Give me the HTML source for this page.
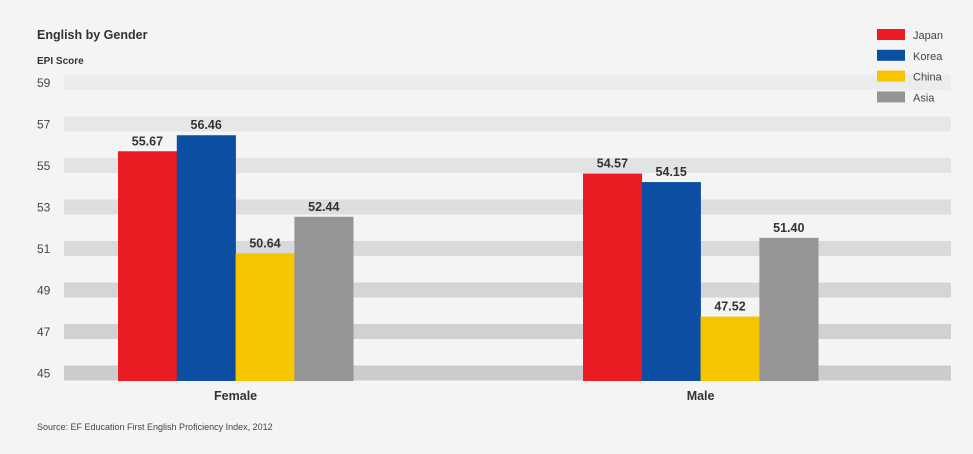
<!DOCTYPE html>
<html><head><meta charset="utf-8"><style>
body{margin:0;background:#f4f4f4;font-family:"Liberation Sans",sans-serif;}
svg text{font-family:"Liberation Sans",sans-serif;}
</style></head><body>
<svg id="c" width="973" height="449">
<rect width="973" height="449" fill="#f4f4f4"/>
<text x="37" y="39" font-size="12.5" font-weight="bold" fill="#333">English by Gender</text>
<text x="37" y="64" font-size="10" font-weight="bold" fill="#333">EPI Score</text>
<text x="37" y="430" font-size="9" fill="#444">Source: EF Education First English Proficiency Index, 2012</text>
<g id="bands"></g><g id="bars"></g><g id="legend"></g>
</svg>
<script>
const categories=["Female","Male"];
const seriesNames=["Japan","Korea","China","Asia"];
const japan=[55.67,54.57];
const korea=[56.46,54.15];
const china=[50.64,47.52];
const asia=[52.44,51.40];
const ticks=[59,57,55,53,51,49,47,45];
const tickLabels=["59","57","55","53","51","49","47","45"];
const colors=["#ec1c24","#0b4ea2","#f6c500","#959595"];
const NS="http://www.w3.org/2000/svg";
function mk(t,a,p){const e=document.createElementNS(NS,t);for(const k in a)e.setAttribute(k,a[k]);p.appendChild(e);return e;}
function bandY(v){return 75+(59-v)/2*41.5;}
function y(v){return 208.25-(v-52.86)*20.28;}
const groupX=[118,583],barW=58.8,baseY=381;
const bands=document.getElementById('bands');
ticks.forEach((t,i)=>{
  const f=i/(ticks.length-1);
  const c=Math.round(235-f*32);
  const r=mk('rect',{x:64,y:bandY(t),width:887,height:15,fill:`rgb(${c},${c+1},${c+3})`},bands);
  
  
  const tx=mk('text',{x:37,y:bandY(t)+12,'font-size':12,fill:'#444'},bands);tx.textContent=tickLabels[i];
  
  
});
const bars=document.getElementById('bars');
const series=[japan,korea,china,asia];
categories.forEach((cat,ci)=>{
  series.forEach((s,si)=>{
    const x=groupX[ci]+si*barW, top=y(s[ci]);
    const r=mk('rect',{x:x,y:top,width:barW+0.3,height:baseY-top,fill:colors[si]},bars);
    
    
    const t=mk('text',{x:x+barW/2,y:top-6,'font-size':12.5,'font-weight':'bold','text-anchor':'middle',fill:'#333'},bars);
    t.textContent=s[ci].toFixed(2);
    
    
  });
  const l=mk('text',{x:groupX[ci]+2*barW,y:400,'font-size':12.5,'font-weight':'bold','text-anchor':'middle',fill:'#333'},bars);
  l.textContent=cat;
  
  
});
const lg=document.getElementById('legend');
seriesNames.forEach((n,i)=>{
  const g=mk('g',{},lg);
  
  
  mk('rect',{x:877,y:29+i*20.8,width:28,height:11,fill:colors[i]},g);
  const t=mk('text',{x:913,y:39+i*20.8,'font-size':11,fill:'#444'},g);t.textContent=n;
});
</script>
</body></html>
